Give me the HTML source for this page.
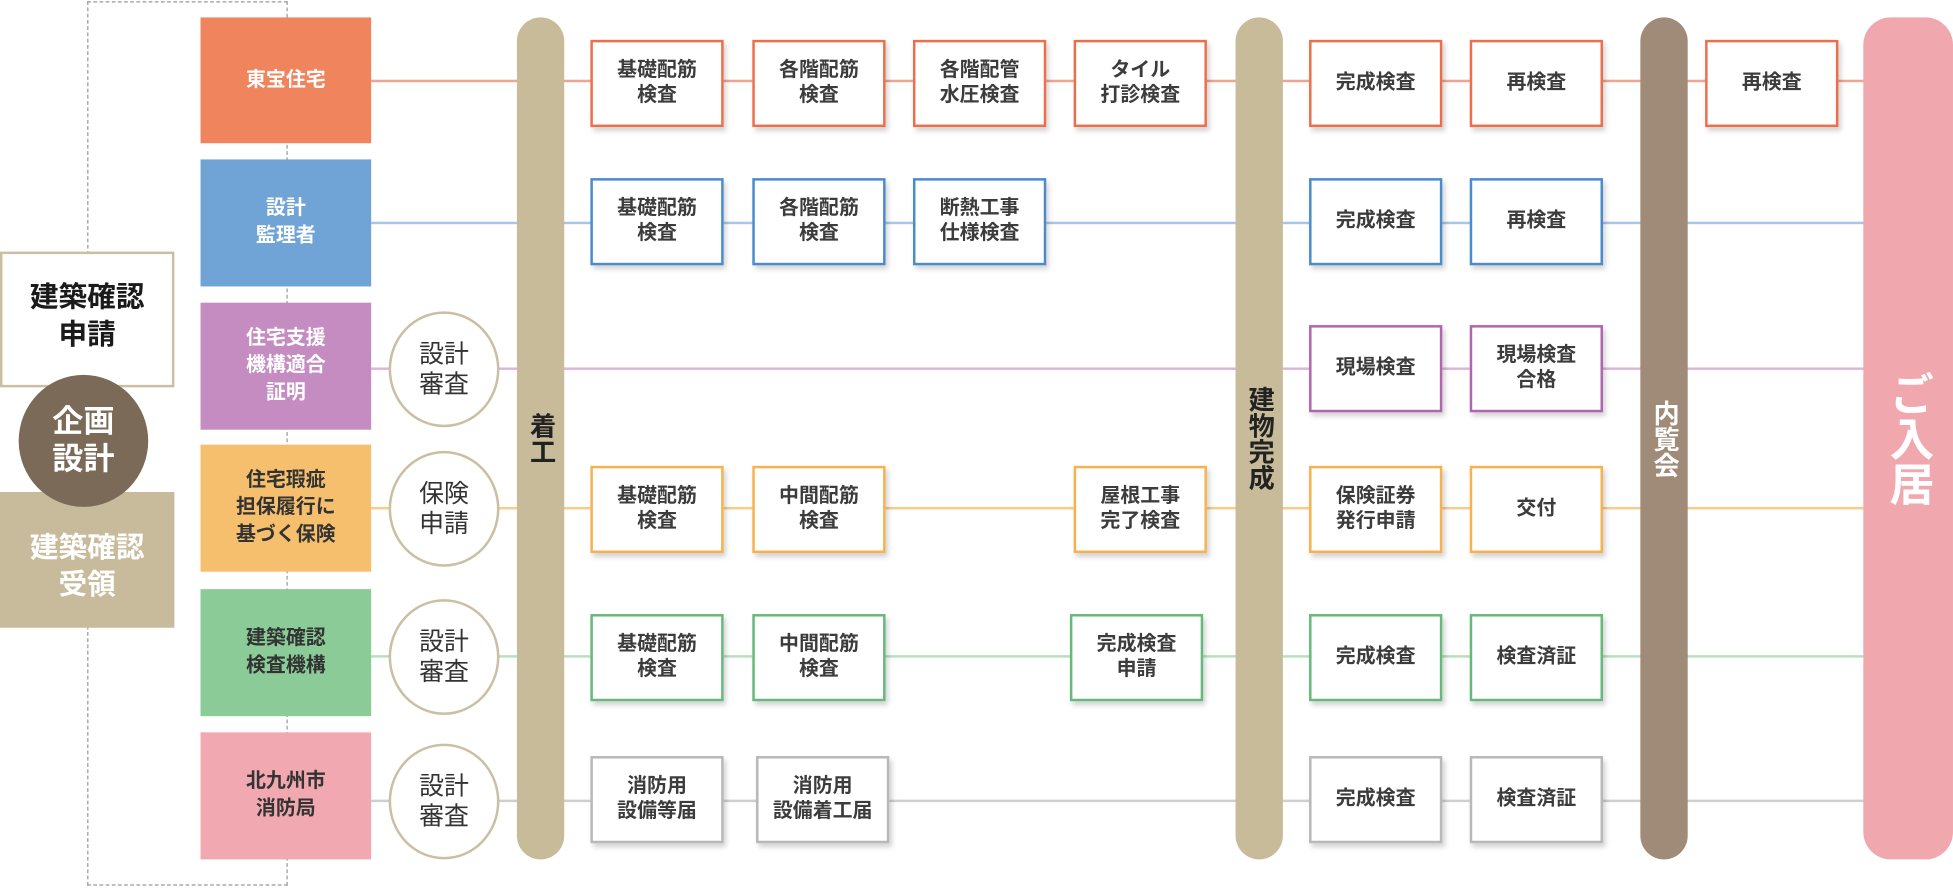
<!DOCTYPE html>
<html><head><meta charset="utf-8"><style>
html,body{margin:0;padding:0;background:#fff;width:1953px;height:888px;overflow:hidden}
#w{position:absolute;left:0;top:0;width:1568px;height:713px;transform:scale(1.24553);transform-origin:0 0;font-family:"Liberation Sans","Noto Sans CJK JP",sans-serif}
.a{position:absolute;box-sizing:border-box}
.c{display:flex;align-items:center;justify-content:center;text-align:center}
.lb{color:#fff;font-weight:bold;font-size:16px;line-height:22px}
.dk{color:#333}
.ln{position:absolute;left:298px;width:1199px;height:2px}
.bx{position:absolute;box-sizing:border-box;width:107px;height:70px;background:#fff;border:2.5px solid;display:flex;align-items:center;justify-content:center;text-align:center;font-size:16px;line-height:20px;color:#3c3c3c;font-weight:bold;box-shadow:2px 3px 4px rgba(0,0,0,.18)}
.o{border-color:#ec6f4c}.b{border-color:#4a8ccb}.p{border-color:#b066ae}.y{border-color:#f5b24f}.g{border-color:#66b97b}.gr{border-color:#b8b8b8}
.ci{position:absolute;box-sizing:border-box;width:89px;height:93px;border-radius:50%;border:2.5px solid #cbbfa3;background:#fff;display:flex;align-items:center;justify-content:center;text-align:center;font-size:20px;line-height:24px;color:#333}
.bar{position:absolute;top:14px;height:676px;border-radius:19px;display:flex;align-items:center;justify-content:center;writing-mode:vertical-rl;font-weight:bold}
</style></head><body><div id="w">
<div class="a" style="left:70px;top:1px;width:161px;height:710px;border:1px dashed #999"></div>
<div class="ln" style="top:64px;background:#f2a493"></div>
<div class="ln" style="top:178px;background:#a9c5e8"></div>
<div class="ln" style="top:295px;background:#dcb6d9"></div>
<div class="ln" style="top:407px;background:#f8cc8a"></div>
<div class="ln" style="top:526px;background:#b7e0bf"></div>
<div class="ln" style="top:642px;background:#cfcfcf"></div>

<div class="a c" style="left:0;top:202px;width:140px;height:109px;background:#fff;border:2.5px solid #cbbfa3;font-weight:bold;font-size:23px;line-height:30px;color:#1a1a1a;padding-bottom:8px">建築確認<br>申請</div>
<div class="a c" style="left:0;top:395px;width:140px;height:109px;background:#c8bb9c;font-weight:bold;font-size:23px;line-height:30px;color:#fff;padding-top:8px">建築確認<br>受領</div>
<div class="a c" style="left:15px;top:301px;width:104px;height:106px;border-radius:50%;background:#7a6a57;color:#fff;font-weight:bold;font-size:25px;line-height:30px">企画<br>設計</div>

<div class="a c lb" style="left:161px;top:14px;width:137px;height:101px;background:#ef845d">東宝住宅</div>
<div class="a c lb" style="left:161px;top:128px;width:137px;height:102px;background:#70a3d6">設計<br>監理者</div>
<div class="a c lb" style="left:161px;top:243px;width:137px;height:102px;background:#c48cc1">住宅支援<br>機構適合<br>証明</div>
<div class="a c lb dk" style="left:161px;top:357px;width:137px;height:102px;background:#f6bf6e">住宅瑕疵<br>担保履行に<br>基づく保険</div>
<div class="a c lb dk" style="left:161px;top:473px;width:137px;height:102px;background:#8acb98">建築確認<br>検査機構</div>
<div class="a c lb dk" style="left:161px;top:588px;width:137px;height:102px;background:#f1a8b0">北九州市<br>消防局</div>

<div class="ci" style="left:312px;top:250px">設計<br>審査</div>
<div class="ci" style="left:312px;top:362px">保険<br>申請</div>
<div class="ci" style="left:312px;top:481px">設計<br>審査</div>
<div class="ci" style="left:312px;top:597px">設計<br>審査</div>

<div class="bar" style="left:415px;width:38px;background:#c8bb9a;color:#222;font-size:21px">着工</div>
<div class="bar" style="left:992px;width:38px;background:#c8bb9a;color:#222;font-size:21px">建物完成</div>
<div class="bar" style="left:1317px;width:38px;background:#a08a78;color:#fff;font-size:21px">内覧会</div>
<div class="bar" style="left:1496px;width:72px;border-radius:22px;background:#f1a7ae;color:#fff;font-size:36px">ご入居</div>

<div class="bx o" style="left:474px;top:32px">基礎配筋<br>検査</div>
<div class="bx o" style="left:604px;top:32px">各階配筋<br>検査</div>
<div class="bx o" style="left:733px;top:32px">各階配管<br>水圧検査</div>
<div class="bx o" style="left:862px;top:32px">タイル<br>打診検査</div>
<div class="bx o" style="left:1051px;top:32px">完成検査</div>
<div class="bx o" style="left:1180px;top:32px">再検査</div>
<div class="bx o" style="left:1369px;top:32px">再検査</div>

<div class="bx b" style="left:474px;top:143px">基礎配筋<br>検査</div>
<div class="bx b" style="left:604px;top:143px">各階配筋<br>検査</div>
<div class="bx b" style="left:733px;top:143px">断熱工事<br>仕様検査</div>
<div class="bx b" style="left:1051px;top:143px">完成検査</div>
<div class="bx b" style="left:1180px;top:143px">再検査</div>

<div class="bx p" style="left:1051px;top:261px">現場検査</div>
<div class="bx p" style="left:1180px;top:261px">現場検査<br>合格</div>

<div class="bx y" style="left:474px;top:374px">基礎配筋<br>検査</div>
<div class="bx y" style="left:604px;top:374px">中間配筋<br>検査</div>
<div class="bx y" style="left:862px;top:374px">屋根工事<br>完了検査</div>
<div class="bx y" style="left:1051px;top:374px">保険証券<br>発行申請</div>
<div class="bx y" style="left:1180px;top:374px">交付</div>

<div class="bx g" style="left:474px;top:493px">基礎配筋<br>検査</div>
<div class="bx g" style="left:604px;top:493px">中間配筋<br>検査</div>
<div class="bx g" style="left:859px;top:493px">完成検査<br>申請</div>
<div class="bx g" style="left:1051px;top:493px">完成検査</div>
<div class="bx g" style="left:1180px;top:493px">検査済証</div>

<div class="bx gr" style="left:474px;top:607px">消防用<br>設備等届</div>
<div class="bx gr" style="left:607px;top:607px">消防用<br>設備着工届</div>
<div class="bx gr" style="left:1051px;top:607px">完成検査</div>
<div class="bx gr" style="left:1180px;top:607px">検査済証</div>
</div></body></html>
